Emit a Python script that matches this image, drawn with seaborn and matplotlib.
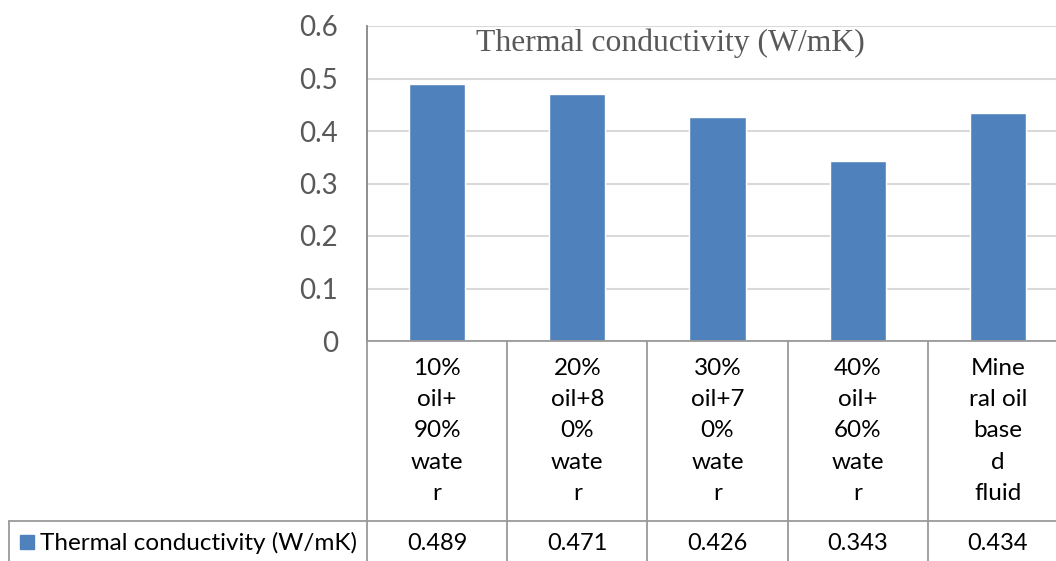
import matplotlib
matplotlib.use("Agg")
import matplotlib.pyplot as plt
import seaborn as sns
import pandas as pd
from matplotlib.transforms import blended_transform_factory
from matplotlib.patches import Rectangle

# ---- data ----
categories = ["10%\noil+\n90%\nwate\nr",
              "20%\noil+8\n0%\nwate\nr",
              "30%\noil+7\n0%\nwate\nr",
              "40%\noil+\n60%\nwate\nr",
              "Mine\nral oil\nbase\nd\nfluid"]
values = [0.489, 0.471, 0.426, 0.343, 0.434]
value_labels = ["0.489", "0.471", "0.426", "0.343", "0.434"]
series_name = "Thermal conductivity (W/mK)"
yticks = [0, 0.1, 0.2, 0.3, 0.4, 0.5, 0.6]
ytick_labels = ["0", "0.1", "0.2", "0.3", "0.4", "0.5", "0.6"]

sns.set_theme(style="white")
plt.rcParams['font.family'] = ['Lato', 'DejaVu Sans']

W, H = 1056, 561
fig = plt.figure(figsize=(W / 100, H / 100), dpi=100)
fig.patch.set_facecolor("white")
L, R, T, B = 367, 1068, 26, 341
ax = fig.add_axes([L / W, 1 - B / H, (R - L) / W, (B - T) / H])

def ax_y(py):
    return (B - py) / (B - T)

def ax_x(px):
    return (px - L) / (R - L)

df = pd.DataFrame({"category": categories, "value": values})
sns.barplot(data=df, x="category", y="value", color="#4f81bd", saturation=1,
            width=0.4, ax=ax)
ax.set_xlim(-0.5, len(categories) - 0.5)
ax.set_ylim(0, 0.6)
ax.set_yticks(yticks)
ax.set_yticklabels(ytick_labels)
ax.set_xlabel("")
ax.set_ylabel("")
ax.yaxis.grid(True, color="#d9d9d9", lw=1.5)
ax.set_axisbelow(True)
for s in ["top", "right"]:
    ax.spines[s].set_visible(False)
ax.spines["left"].set_color("#868686")
ax.spines["left"].set_linewidth(1.3)
ax.spines["bottom"].set_color("#9a9a9a")
ax.spines["bottom"].set_linewidth(1.3)
ax.tick_params(axis="y", length=0, pad=21, labelsize=20, labelcolor="#595959")
ax.tick_params(axis="x", length=0, pad=12, labelsize=17.5, labelcolor="black")
for lbl in ax.get_xticklabels():
    lbl.set_linespacing(1.61)

# title inside plot area
fig.text(670 / W, 1 - 43 / H, series_name, ha="center", va="center",
         fontsize=22.8, color="#595959", family=["Liberation Serif"])

# data table
line_kw = dict(color="#9a9a9a", lw=1.3, clip_on=False)
tr = blended_transform_factory(ax.transData, ax.transAxes)
for i in range(len(categories)):
    ax.plot([i - 0.5, i - 0.5], [ax_y(341), ax_y(570)], transform=tr, **line_kw)
ax.plot([ax_x(9), ax_x(1080)], [ax_y(521), ax_y(521)], transform=ax.transAxes, **line_kw)
ax.plot([ax_x(9), ax_x(9)], [ax_y(521), ax_y(570)], transform=ax.transAxes, **line_kw)

for i, v in enumerate(value_labels):
    ax.text(i, ax_y(543), v, transform=tr, ha="center", va="center",
            fontsize=17, color="black")

ax.add_patch(Rectangle((ax_x(20), ax_y(549)), ax_x(34) - ax_x(20), ax_y(535) - ax_y(549),
                       transform=ax.transAxes, color="#4f81bd", clip_on=False))
ax.text(ax_x(40), ax_y(543), series_name, transform=ax.transAxes, ha="left",
        va="center", fontsize=17.5, color="black")

fig.savefig("out.png", dpi=100)
